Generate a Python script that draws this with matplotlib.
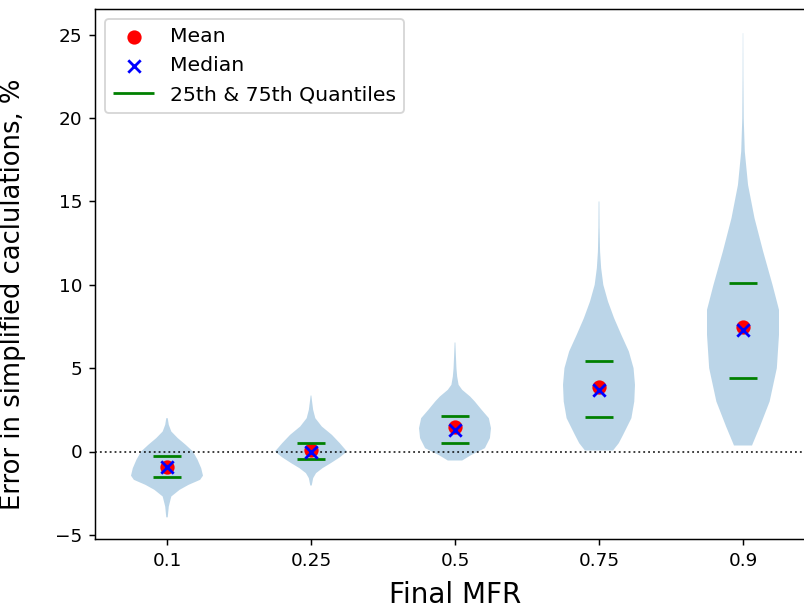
import matplotlib
matplotlib.use("Agg")
import matplotlib.pyplot as plt
import numpy as np

# violin outlines: y values and relative half-widths
v1_y = [-3.95, -3.3, -2.7, -2.3, -2.0, -1.7, -1.45, -1.0, -0.5, 0.0, 0.4, 0.8, 1.2, 1.6, 2.0]
v1_w = [0.02, 0.05, 0.12, 0.35, 0.6, 0.92, 1.0, 0.95, 0.85, 0.72, 0.52, 0.3, 0.12, 0.05, 0.02]
v2_y = [-2.04, -1.6, -1.3, -1.0, -0.7, -0.35, 0.0, 0.5, 1.0, 1.5, 2.0, 2.5, 3.0, 3.36]
v2_w = [0.02, 0.06, 0.14, 0.32, 0.55, 0.8, 1.0, 0.8, 0.58, 0.3, 0.12, 0.06, 0.03, 0.01]
v3_y = [-0.54, -0.2, 0.2, 0.8, 1.4, 2.0, 2.5, 3.0, 3.3, 3.7, 4.0, 4.5, 5.0, 6.0, 6.54]
v3_w = [0.2, 0.46, 0.83, 0.97, 1.0, 0.94, 0.74, 0.55, 0.42, 0.2, 0.1, 0.06, 0.04, 0.02, 0.01]
v4_y = [0.06, 0.5, 1.0, 2.0, 3.0, 4.0, 5.0, 6.0, 7.0, 8.0, 9.0, 10.0, 11.0, 12.0, 13.5, 15.0]
v4_w = [0.39, 0.55, 0.67, 0.9, 0.98, 1.0, 0.96, 0.83, 0.62, 0.42, 0.25, 0.12, 0.06, 0.03, 0.015, 0.01]
v5_y = [0.36, 1.5, 3.0, 5.0, 7.0, 8.5, 10.0, 12.0, 14.0, 16.0, 18.0, 20.0, 22.5, 25.1]
v5_w = [0.25, 0.47, 0.74, 0.94, 1.0, 1.0, 0.82, 0.56, 0.32, 0.14, 0.05, 0.02, 0.01, 0.005]

mfr_labels = ['0.1', '0.25', '0.5', '0.75', '0.9']
means = [-0.95, 0.1, 1.45, 3.9, 7.45]
medians = [-0.95, 0.0, 1.3, 3.7, 7.3]
q25 = [-1.55, -0.42, 0.54, 2.06, 4.4]
q75 = [-0.24, 0.54, 2.16, 5.46, 10.1]

shapes = [(v1_y, v1_w), (v2_y, v2_w), (v3_y, v3_w), (v4_y, v4_w), (v5_y, v5_w)]
pos = np.arange(1, len(mfr_labels) + 1)

vpstats = []
for (ys, ws), m, md in zip(shapes, means, medians):
    vpstats.append({'coords': np.array(ys), 'vals': np.array(ws),
                    'mean': m, 'median': md, 'min': ys[0], 'max': ys[-1]})

dpi = 133
fig = plt.figure(figsize=(804 / dpi, 611 / dpi), dpi=dpi)
# axes run past the right edge, as in the cropped original
ax = fig.add_axes([95 / 804, 72 / 611, 720 / 804, 530 / 611])
ax.spines['right'].set_visible(False)

ax.violin(vpstats, positions=pos, widths=0.5, showextrema=False)
ax.axhline(0, color='k', linestyle=':', linewidth=1, alpha=0.8)

ax.scatter(pos, means, color='red', s=45, label='Mean', zorder=3)
ax.scatter(pos, medians, color='blue', marker='x', s=45, label='Median', zorder=4)
ax.hlines(q25, pos - 0.1, pos + 0.1, color='green', linewidth=1.5,
          label='25th & 75th Quantiles', zorder=3)
ax.hlines(q75, pos - 0.1, pos + 0.1, color='green', linewidth=1.5, zorder=3)

ax.set_xlim(0.5, 5.5)
ax.set_ylim(-5.25, 26.55)
ax.set_xticks(pos)
ax.set_xticklabels(mfr_labels)
ax.set_xlabel("Final MFR", fontsize=15, labelpad=6)
ax.set_ylabel("Error in simplified caclulations, %", fontsize=14)
ax.yaxis.set_label_coords(-0.096, 0.462)
ax.legend(loc='upper left', fontsize=11)

fig.savefig("out.png", dpi=dpi)
